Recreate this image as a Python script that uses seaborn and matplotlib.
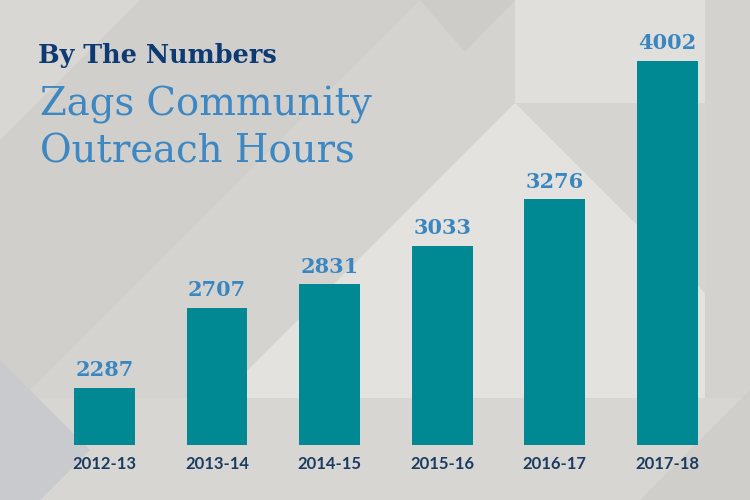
import pandas as pd
import matplotlib.pyplot as plt
import seaborn as sns
from matplotlib.patches import Polygon

# --- Data ---
seasons = ['2012-13', '2013-14', '2014-15', '2015-16', '2016-17', '2017-18']
hours = [2287, 2707, 2831, 3033, 3276, 4002]

df = pd.DataFrame({'season': seasons, 'hours': hours})

# --- Colours ---
bar_color = '#008893'
value_color = '#3a86c0'
tick_color = '#1b3c62'
title_color = '#0e3a73'
sub_color = '#3d87c2'

W, H = 750, 500
fig = plt.figure(figsize=(7.5, 5), dpi=100)
fig.patch.set_facecolor('#d4d3d0')


def px(points):
    # pixel coords (y from top) -> figure fraction
    return [(x / W, 1 - y / H) for x, y in points]


# --- Background geometric shapes ---
shapes = [
    ([(0, 0), (420, 0), (0, 420)], '#d0cfcc'),
    ([(0, 0), (140, 0), (0, 140)], '#d8d7d4'),
    ([(420, 0), (515, 0), (465, 52)], '#cdccc9'),
    ([(515, 0), (705, 0), (705, 103), (515, 103)], '#e0dfdb'),
    ([(705, 0), (750, 0), (750, 500), (705, 500)], '#d3d2cf'),
    ([(515, 103), (705, 103), (705, 293)], '#d5d4d1'),
    ([(515, 103), (180, 438), (705, 438), (705, 293)], '#e3e2de'),
    ([(0, 398), (750, 398), (750, 500), (0, 500)], '#d7d6d3'),
    ([(0, 360), (90, 450), (40, 500), (0, 500)], '#c9cacd'),
    ([(640, 500), (750, 390), (750, 500)], '#cfcecb'),
]
for pts, c in shapes:
    fig.add_artist(Polygon(px(pts), closed=True, facecolor=c, edgecolor='none',
                           transform=fig.transFigure, zorder=0))

# --- Bars ---
ax = fig.add_axes([0, 55 / H, 1, 1 - 55 / H])
ax.set_facecolor('none')
sns.barplot(data=df, x='season', y='hours', color=bar_color, width=0.54,
            saturation=1, ax=ax)

ax.set_xlim(-0.928, 5.733)
ax.set_ylim(1988, 4321)
for s in ax.spines.values():
    s.set_visible(False)
ax.set_yticks([])
ax.set_xlabel('')
ax.set_ylabel('')
ax.tick_params(axis='x', length=0, pad=8)
for lbl in ax.get_xticklabels():
    lbl.set_fontfamily('Lato')
    lbl.set_fontweight('bold')
    lbl.set_fontsize(12)
    lbl.set_color(tick_color)

for i, v in enumerate(hours):
    ax.text(i, v + 40, str(v), ha='center', va='bottom',
            family='DejaVu Serif', fontweight='bold', fontsize=15,
            color=value_color, clip_on=False)

# --- Titles ---
fig.text(38 / W, 1 - 63 / H, 'By The Numbers', ha='left', va='baseline',
         family='DejaVu Serif', fontweight='bold', fontsize=18.4,
         color=title_color)
fig.text(40 / W, 1 - 116 / H, 'Zags Community', ha='left', va='baseline',
         family='DejaVu Serif', fontsize=27.8, color=sub_color)
fig.text(40 / W, 1 - 162 / H, 'Outreach Hours', ha='left', va='baseline',
         family='DejaVu Serif', fontsize=27.8, color=sub_color)

fig.savefig('out.png', dpi=100, facecolor=fig.get_facecolor())
